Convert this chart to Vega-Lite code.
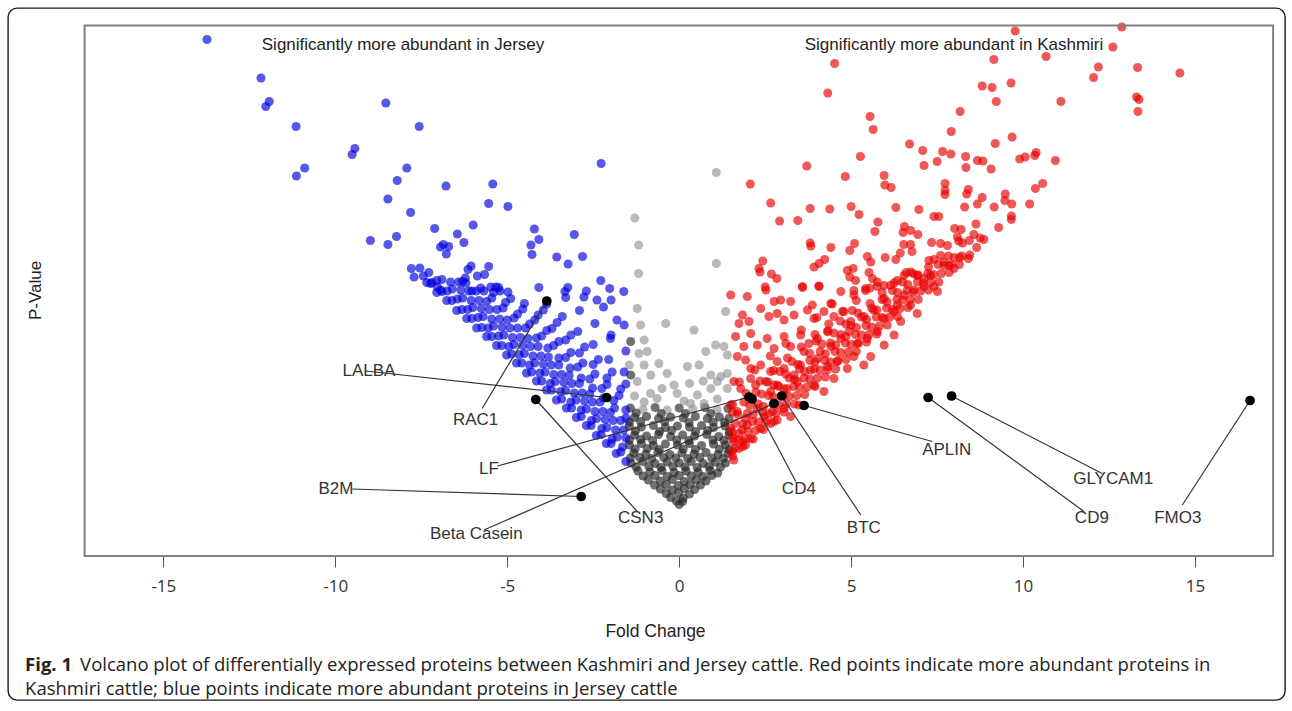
{
"$schema": "https://vega.github.io/schema/vega-lite/v6.json",
"width": 1277, "height": 692, "autosize": "none",
"padding": {"left": 8, "top": 8, "right": 7, "bottom": 11},
"background": "white",
"config": {"view": {"stroke": "#1a1a1a", "strokeWidth": 1.4, "cornerRadius": 9}},
"resolve": {"axis": {"x": "independent", "y": "independent"}},
"datasets": {
"pts": [
{"x":-1.41,"y":4.29,"g":"N"},{"x":-1.41,"y":3.62,"g":"N"},
{"x":-1.42,"y":2.96,"g":"N"},{"x":-1.05,"y":2.93,"g":"S"},{"x":-0.7,"y":2.97,"g":"N"},{"x":-0.35,"y":2.92,"g":"S"},{"x":0.0,"y":2.96,"g":"N"},{"x":0.4,"y":2.94,"g":"S"},{"x":0.75,"y":2.97,"g":"N"},{"x":1.1,"y":2.92,"g":"S"},{"x":1.42,"y":2.95,"g":"N"},
{"x":-1.3,"y":2.77,"g":"N"},{"x":-0.95,"y":2.79,"g":"N"},{"x":-0.6,"y":2.75,"g":"N"},{"x":-0.25,"y":2.78,"g":"N"},{"x":0.12,"y":2.76,"g":"N"},{"x":0.47,"y":2.79,"g":"N"},{"x":0.82,"y":2.75,"g":"N"},{"x":1.17,"y":2.78,"g":"N"},{"x":1.45,"y":2.76,"g":"N"},
{"x":-1.45,"y":2.6,"g":"N"},{"x":-1.1,"y":2.58,"g":"N"},{"x":-0.75,"y":2.61,"g":"N"},{"x":-0.4,"y":2.57,"g":"N"},{"x":-0.05,"y":2.6,"g":"N"},{"x":0.3,"y":2.58,"g":"N"},{"x":0.65,"y":2.61,"g":"N"},{"x":1.0,"y":2.57,"g":"N"},{"x":1.33,"y":2.6,"g":"N"},
{"x":-1.3,"y":2.42,"g":"N"},{"x":-0.95,"y":2.4,"g":"N"},{"x":-0.6,"y":2.43,"g":"N"},{"x":-0.25,"y":2.39,"g":"N"},{"x":0.1,"y":2.42,"g":"N"},{"x":0.45,"y":2.4,"g":"N"},{"x":0.8,"y":2.43,"g":"N"},{"x":1.15,"y":2.39,"g":"N"},{"x":1.45,"y":2.42,"g":"N"},
{"x":-1.45,"y":2.22,"g":"N"},{"x":-1.1,"y":2.25,"g":"N"},{"x":-0.75,"y":2.21,"g":"N"},{"x":-0.4,"y":2.24,"g":"N"},{"x":-0.05,"y":2.22,"g":"N"},{"x":0.3,"y":2.25,"g":"N"},{"x":0.65,"y":2.21,"g":"N"},{"x":1.0,"y":2.24,"g":"N"},{"x":1.35,"y":2.22,"g":"N"},
{"x":-1.32,"y":2.06,"g":"N"},{"x":-0.97,"y":2.04,"g":"N"},{"x":-0.62,"y":2.07,"g":"N"},{"x":-0.27,"y":2.03,"g":"N"},{"x":0.08,"y":2.06,"g":"N"},{"x":0.43,"y":2.04,"g":"N"},{"x":0.78,"y":2.07,"g":"N"},{"x":1.13,"y":2.03,"g":"N"},{"x":1.42,"y":2.05,"g":"N"},
{"x":-1.4,"y":1.86,"g":"N"},{"x":-1.05,"y":1.89,"g":"N"},{"x":-0.7,"y":1.85,"g":"N"},{"x":-0.35,"y":1.88,"g":"N"},{"x":0.0,"y":1.86,"g":"N"},{"x":0.35,"y":1.89,"g":"N"},{"x":0.7,"y":1.85,"g":"N"},{"x":1.05,"y":1.88,"g":"N"},{"x":1.35,"y":1.86,"g":"N"},
{"x":-1.2,"y":1.7,"g":"N"},{"x":-0.85,"y":1.68,"g":"N"},{"x":-0.5,"y":1.71,"g":"N"},{"x":-0.15,"y":1.67,"g":"N"},{"x":0.2,"y":1.7,"g":"N"},{"x":0.55,"y":1.68,"g":"N"},{"x":0.9,"y":1.71,"g":"N"},{"x":1.12,"y":1.66,"g":"N"},
{"x":-0.9,"y":1.52,"g":"N"},{"x":-0.55,"y":1.5,"g":"N"},{"x":-0.2,"y":1.53,"g":"N"},{"x":0.15,"y":1.49,"g":"N"},{"x":0.5,"y":1.52,"g":"N"},{"x":0.78,"y":1.5,"g":"N"},
{"x":-0.55,"y":1.34,"g":"N"},{"x":-0.2,"y":1.32,"g":"N"},{"x":0.15,"y":1.35,"g":"N"},{"x":0.45,"y":1.33,"g":"N"},
{"x":-0.25,"y":1.17,"g":"N"},{"x":0.12,"y":1.16,"g":"N"},{"x":0.0,"y":1.03,"g":"N"},
{"x":-1.25,"y":2.86,"g":"N"},{"x":-0.52,"y":2.85,"g":"N"},{"x":0.18,"y":2.85,"g":"N"},{"x":0.92,"y":2.85,"g":"N"},
{"x":-1.45,"y":2.68,"g":"N"},{"x":-1.12,"y":2.69,"g":"N"},{"x":-0.42,"y":2.69,"g":"N"},{"x":0.29,"y":2.67,"g":"N"},{"x":0.99,"y":2.68,"g":"N"},{"x":1.32,"y":2.67,"g":"N"},
{"x":-1.27,"y":2.5,"g":"N"},{"x":-0.57,"y":2.49,"g":"N"},{"x":-0.22,"y":2.51,"g":"N"},{"x":0.48,"y":2.49,"g":"N"},{"x":0.83,"y":2.51,"g":"N"},{"x":1.46,"y":2.49,"g":"N"},
{"x":-1.45,"y":2.32,"g":"N"},{"x":-1.12,"y":2.33,"g":"N"},{"x":-0.77,"y":2.31,"g":"N"},{"x":-0.07,"y":2.32,"g":"N"},{"x":0.28,"y":2.31,"g":"N"},{"x":0.98,"y":2.32,"g":"N"},{"x":1.3,"y":2.31,"g":"N"},
{"x":-1.28,"y":2.14,"g":"N"},{"x":-0.93,"y":2.15,"g":"N"},{"x":-0.58,"y":2.13,"g":"N"},{"x":0.12,"y":2.14,"g":"N"},{"x":0.47,"y":2.13,"g":"N"},{"x":1.17,"y":2.14,"g":"N"},{"x":1.45,"y":2.13,"g":"N"},
{"x":-1.42,"y":1.96,"g":"N"},{"x":-1.15,"y":1.97,"g":"N"},{"x":-0.8,"y":1.95,"g":"N"},{"x":-0.45,"y":1.97,"g":"N"},{"x":-0.1,"y":1.96,"g":"N"},{"x":0.25,"y":1.95,"g":"N"},{"x":0.6,"y":1.97,"g":"N"},{"x":0.95,"y":1.96,"g":"N"},{"x":1.28,"y":1.95,"g":"N"},
{"x":-1.25,"y":1.78,"g":"N"},{"x":-0.88,"y":1.79,"g":"N"},{"x":-0.53,"y":1.77,"g":"N"},{"x":-0.18,"y":1.79,"g":"N"},{"x":0.17,"y":1.78,"g":"N"},{"x":0.52,"y":1.77,"g":"N"},{"x":0.87,"y":1.79,"g":"N"},{"x":1.2,"y":1.78,"g":"N"},
{"x":-1.05,"y":1.6,"g":"N"},{"x":-0.7,"y":1.61,"g":"N"},{"x":-0.35,"y":1.59,"g":"N"},{"x":0.0,"y":1.61,"g":"N"},{"x":0.35,"y":1.6,"g":"N"},{"x":0.7,"y":1.59,"g":"N"},{"x":0.95,"y":1.61,"g":"N"},
{"x":-0.72,"y":1.42,"g":"N"},{"x":-0.38,"y":1.43,"g":"N"},{"x":-0.03,"y":1.41,"g":"N"},{"x":0.32,"y":1.43,"g":"N"},{"x":0.62,"y":1.42,"g":"N"},
{"x":-0.38,"y":1.25,"g":"N"},{"x":-0.02,"y":1.26,"g":"N"},{"x":0.3,"y":1.24,"g":"N"},{"x":-0.08,"y":1.1,"g":"N"},{"x":0.1,"y":1.09,"g":"N"},
{"x":-1.29,"y":6.76,"g":"S"},{"x":-1.18,"y":6.22,"g":"S"},{"x":-1.18,"y":5.65,"g":"S"},{"x":1.08,"y":7.67,"g":"S"},{"x":1.08,"y":5.85,"g":"S"},
{"x":-1.22,"y":4.95,"g":"S"},{"x":-1.12,"y":4.62,"g":"S"},{"x":-0.39,"y":4.65,"g":"S"},{"x":-1.02,"y":4.32,"g":"S"},{"x":-0.93,"y":4.09,"g":"S"},{"x":-1.17,"y":4.05,"g":"S"},{"x":-1.45,"y":3.82,"g":"S"},{"x":-1.02,"y":3.82,"g":"S"},{"x":-0.59,"y":3.85,"g":"S"},{"x":-0.35,"y":3.65,"g":"S"},{"x":-0.83,"y":3.62,"g":"S"},{"x":-0.15,"y":3.42,"g":"S"},{"x":-1.22,"y":3.49,"g":"S"},{"x":-0.83,"y":3.25,"g":"S"},{"x":-0.64,"y":3.15,"g":"S"},{"x":-0.06,"y":3.25,"g":"S"},{"x":-1.02,"y":3.08,"g":"S"},{"x":0.14,"y":3.1,"g":"S"},
{"x":1.35,"y":4.89,"g":"S"},{"x":0.43,"y":4.52,"g":"S"},{"x":0.77,"y":4.09,"g":"S"},{"x":1.06,"y":4.22,"g":"S"},{"x":1.3,"y":4.19,"g":"S"},{"x":1.4,"y":4.02,"g":"S"},{"x":0.58,"y":3.82,"g":"S"},{"x":0.24,"y":3.79,"g":"S"},{"x":0.92,"y":3.62,"g":"S"},{"x":1.21,"y":3.59,"g":"S"},{"x":1.4,"y":3.65,"g":"S"},{"x":1.11,"y":3.49,"g":"S"},{"x":0.92,"y":3.35,"g":"S"},{"x":1.4,"y":3.35,"g":"S"},{"x":0.53,"y":3.22,"g":"S"},{"x":0.33,"y":3.05,"g":"S"},{"x":0.72,"y":3.05,"g":"S"},{"x":1.11,"y":3.14,"g":"S"},
{"x":-0.5,"y":3.35,"g":"S"},{"x":-1.3,"y":3.2,"g":"S"},{"x":0.3,"y":3.45,"g":"S"},{"x":0.7,"y":3.5,"g":"S"},
{"x":-13.73,"y":10.33,"g":"J"},{"x":-12.16,"y":9.56,"g":"J"},{"x":-11.92,"y":9.09,"g":"J"},{"x":-12.02,"y":8.99,"g":"J"},{"x":-11.14,"y":8.59,"g":"J"},{"x":-9.43,"y":8.15,"g":"J"},{"x":-9.51,"y":8.03,"g":"J"},{"x":-10.89,"y":7.76,"g":"J"},{"x":-11.13,"y":7.6,"g":"J"},{"x":-8.98,"y":6.31,"g":"J"},
{"x":-8.53,"y":9.06,"g":"J"},{"x":-7.56,"y":8.59,"g":"J"},{"x":-7.92,"y":7.76,"g":"J"},{"x":-8.2,"y":7.51,"g":"J"},{"x":-8.47,"y":7.14,"g":"J"},{"x":-7.81,"y":6.87,"g":"J"},{"x":-6.78,"y":7.4,"g":"J"},{"x":-5.42,"y":7.44,"g":"J"},{"x":-5.54,"y":7.05,"g":"J"},{"x":-4.98,"y":6.99,"g":"J"},
{"x":-2.27,"y":7.85,"g":"J"},{"x":-8.22,"y":6.39,"g":"J"},{"x":-8.47,"y":6.23,"g":"J"},{"x":-7.11,"y":6.55,"g":"J"},{"x":-5.99,"y":6.62,"g":"J"},{"x":-6.45,"y":6.44,"g":"J"},{"x":-6.26,"y":6.27,"g":"J"},{"x":-6.94,"y":6.18,"g":"J"},{"x":-6.86,"y":6.23,"g":"J"},{"x":-6.7,"y":6.19,"g":"J"},
{"x":-6.77,"y":6.04,"g":"J"},{"x":-4.21,"y":6.54,"g":"J"},{"x":-4.08,"y":6.33,"g":"J"},{"x":-4.31,"y":6.22,"g":"J"},{"x":-4.28,"y":6.03,"g":"J"},{"x":-3.05,"y":6.43,"g":"J"},{"x":-3.56,"y":5.98,"g":"J"},{"x":-3.23,"y":5.84,"g":"J"},{"x":-2.81,"y":5.99,"g":"J"},{"x":-2.28,"y":5.51,"g":"J"},
{"x":-2.02,"y":5.35,"g":"J"},{"x":-1.61,"y":5.29,"g":"J"},{"x":-7.79,"y":5.75,"g":"J"},{"x":-7.71,"y":5.58,"g":"J"},{"x":-7.54,"y":5.76,"g":"J"},{"x":-7.44,"y":5.6,"g":"J"},{"x":-7.28,"y":5.67,"g":"J"},{"x":-6.05,"y":5.8,"g":"J"},{"x":-6.14,"y":5.73,"g":"J"},{"x":-6.22,"y":5.56,"g":"J"},
{"x":-6.3,"y":5.49,"g":"J"},{"x":-5.87,"y":5.6,"g":"J"},{"x":-5.66,"y":5.63,"g":"J"},{"x":-5.54,"y":5.79,"g":"J"},{"x":-7.23,"y":5.45,"g":"J"},{"x":-7.03,"y":5.38,"g":"J"},{"x":-6.94,"y":5.32,"g":"J"},{"x":-6.03,"y":5.3,"g":"J"},{"x":-5.68,"y":5.3,"g":"J"},{"x":-5.48,"y":5.38,"g":"J"},
{"x":-5.33,"y":5.38,"g":"J"},{"x":-5.21,"y":5.3,"g":"J"},{"x":-4.98,"y":5.28,"g":"J"},{"x":-4.08,"y":5.37,"g":"J"},{"x":-3.24,"y":5.37,"g":"J"},{"x":-3.32,"y":5.29,"g":"J"},
{"x":-1.98,"y":5.12,"g":"J"},{"x":-2.39,"y":5.12,"g":"J"},{"x":-2.77,"y":5.18,"g":"J"},{"x":-1.81,"y":4.72,"g":"J"},{"x":-1.98,"y":4.42,"g":"J"},
{"x":-1.55,"y":1.89,"g":"J"},{"x":-1.83,"y":2.05,"g":"J"},{"x":-2.12,"y":2.25,"g":"J"},{"x":-2.41,"y":2.41,"g":"J"},{"x":-2.7,"y":2.61,"g":"J"},{"x":-2.99,"y":2.77,"g":"J"},{"x":-3.28,"y":2.96,"g":"J"},{"x":-3.57,"y":3.12,"g":"J"},{"x":-3.86,"y":3.32,"g":"J"},{"x":-4.15,"y":3.5,"g":"J"},{"x":-4.44,"y":3.66,"g":"J"},{"x":-4.73,"y":3.86,"g":"J"},{"x":-5.02,"y":4.02,"g":"J"},{"x":-5.31,"y":4.21,"g":"J"},{"x":-5.6,"y":4.39,"g":"J"},{"x":-5.89,"y":4.56,"g":"J"},{"x":-6.18,"y":4.75,"g":"J"},{"x":-6.47,"y":4.91,"g":"J"},{"x":-6.76,"y":5.11,"g":"J"},{"x":-7.05,"y":5.27,"g":"J"},{"x":-7.34,"y":5.47,"g":"J"},
{"x":-1.65,"y":2.18,"g":"J"},{"x":-1.95,"y":2.34,"g":"J"},{"x":-2.25,"y":2.55,"g":"J"},{"x":-2.55,"y":2.71,"g":"J"},{"x":-2.85,"y":2.92,"g":"J"},{"x":-3.15,"y":3.08,"g":"J"},{"x":-3.45,"y":3.29,"g":"J"},{"x":-3.75,"y":3.45,"g":"J"},{"x":-4.05,"y":3.66,"g":"J"},{"x":-4.35,"y":3.82,"g":"J"},{"x":-4.65,"y":4.03,"g":"J"},{"x":-4.95,"y":4.19,"g":"J"},{"x":-5.25,"y":4.4,"g":"J"},{"x":-5.55,"y":4.56,"g":"J"},{"x":-5.85,"y":4.77,"g":"J"},{"x":-6.15,"y":4.93,"g":"J"},{"x":-6.45,"y":5.14,"g":"J"},{"x":-6.75,"y":5.3,"g":"J"},{"x":-7.05,"y":5.51,"g":"J"},
{"x":-1.55,"y":2.36,"g":"J"},{"x":-1.85,"y":2.52,"g":"J"},{"x":-2.15,"y":2.73,"g":"J"},{"x":-2.45,"y":2.89,"g":"J"},{"x":-2.75,"y":3.1,"g":"J"},{"x":-3.05,"y":3.26,"g":"J"},{"x":-3.35,"y":3.47,"g":"J"},{"x":-3.65,"y":3.63,"g":"J"},{"x":-3.95,"y":3.84,"g":"J"},{"x":-4.25,"y":4.0,"g":"J"},{"x":-4.55,"y":4.21,"g":"J"},{"x":-4.85,"y":4.37,"g":"J"},{"x":-5.15,"y":4.58,"g":"J"},{"x":-5.45,"y":4.74,"g":"J"},{"x":-5.75,"y":4.95,"g":"J"},{"x":-6.05,"y":5.11,"g":"J"},{"x":-6.35,"y":5.32,"g":"J"},{"x":-6.65,"y":5.48,"g":"J"},
{"x":-1.7,"y":2.71,"g":"J"},{"x":-2.0,"y":2.87,"g":"J"},{"x":-2.3,"y":3.08,"g":"J"},{"x":-2.6,"y":3.24,"g":"J"},{"x":-2.9,"y":3.45,"g":"J"},{"x":-3.2,"y":3.61,"g":"J"},{"x":-3.5,"y":3.82,"g":"J"},{"x":-3.8,"y":3.98,"g":"J"},{"x":-4.1,"y":4.19,"g":"J"},{"x":-4.4,"y":4.35,"g":"J"},{"x":-4.7,"y":4.56,"g":"J"},{"x":-5.0,"y":4.72,"g":"J"},{"x":-5.3,"y":4.93,"g":"J"},{"x":-5.6,"y":5.09,"g":"J"},{"x":-5.9,"y":5.3,"g":"J"},{"x":-6.2,"y":5.46,"g":"J"},
{"x":-1.55,"y":2.92,"g":"J"},{"x":-1.9,"y":3.11,"g":"J"},{"x":-2.25,"y":3.35,"g":"J"},{"x":-2.6,"y":3.54,"g":"J"},{"x":-2.95,"y":3.78,"g":"J"},{"x":-3.3,"y":3.97,"g":"J"},{"x":-3.65,"y":4.21,"g":"J"},{"x":-4.0,"y":4.4,"g":"J"},{"x":-4.35,"y":4.64,"g":"J"},{"x":-4.7,"y":4.84,"g":"J"},{"x":-5.05,"y":5.07,"g":"J"},{"x":-5.4,"y":5.27,"g":"J"},
{"x":-1.7,"y":3.34,"g":"J"},{"x":-2.1,"y":3.56,"g":"J"},{"x":-2.5,"y":3.83,"g":"J"},{"x":-2.9,"y":4.06,"g":"J"},{"x":-3.3,"y":4.32,"g":"J"},{"x":-3.7,"y":4.55,"g":"J"},{"x":-4.1,"y":4.82,"g":"J"},{"x":-4.5,"y":5.05,"g":"J"},
{"x":-1.6,"y":3.68,"g":"J"},{"x":-2.05,"y":3.93,"g":"J"},{"x":-2.5,"y":4.23,"g":"J"},{"x":-2.95,"y":4.49,"g":"J"},{"x":-3.4,"y":4.79,"g":"J"},{"x":-3.85,"y":5.04,"g":"J"},
{"x":-1.55,"y":4.1,"g":"J"},{"x":-2.0,"y":4.35,"g":"J"},{"x":-2.45,"y":4.65,"g":"J"},{"x":-2.9,"y":4.91,"g":"J"},{"x":-3.3,"y":5.17,"g":"J"},
{"x":-1.6,"y":4.62,"g":"J"},{"x":-2.2,"y":4.98,"g":"J"},{"x":-2.7,"y":5.3,"g":"J"},
{"x":-1.7,"y":2.08,"g":"J"},{"x":-1.98,"y":2.25,"g":"J"},{"x":-2.27,"y":2.43,"g":"J"},{"x":-2.56,"y":2.61,"g":"J"},{"x":-2.85,"y":2.79,"g":"J"},{"x":-3.13,"y":2.96,"g":"J"},{"x":-3.42,"y":3.14,"g":"J"},{"x":-3.71,"y":3.32,"g":"J"},{"x":-4.0,"y":3.5,"g":"J"},{"x":-4.29,"y":3.68,"g":"J"},{"x":-4.58,"y":3.86,"g":"J"},{"x":-4.87,"y":4.04,"g":"J"},{"x":-5.16,"y":4.21,"g":"J"},{"x":-5.45,"y":4.39,"g":"J"},{"x":-5.74,"y":4.57,"g":"J"},{"x":-6.03,"y":4.75,"g":"J"},{"x":-6.32,"y":4.93,"g":"J"},{"x":-6.61,"y":5.11,"g":"J"},{"x":-6.9,"y":5.29,"g":"J"},{"x":-7.19,"y":5.47,"g":"J"},
{"x":-1.8,"y":2.38,"g":"J"},{"x":-2.1,"y":2.57,"g":"J"},{"x":-2.4,"y":2.75,"g":"J"},{"x":-2.7,"y":2.94,"g":"J"},{"x":-3.0,"y":3.12,"g":"J"},{"x":-3.3,"y":3.31,"g":"J"},{"x":-3.6,"y":3.49,"g":"J"},{"x":-3.9,"y":3.68,"g":"J"},{"x":-4.2,"y":3.86,"g":"J"},{"x":-4.5,"y":4.05,"g":"J"},{"x":-4.8,"y":4.23,"g":"J"},{"x":-5.1,"y":4.42,"g":"J"},{"x":-5.4,"y":4.6,"g":"J"},{"x":-5.7,"y":4.79,"g":"J"},{"x":-6.0,"y":4.97,"g":"J"},{"x":-6.3,"y":5.16,"g":"J"},{"x":-6.6,"y":5.34,"g":"J"},{"x":-6.9,"y":5.53,"g":"J"},
{"x":-1.62,"y":2.52,"g":"J"},{"x":-1.92,"y":2.71,"g":"J"},{"x":-2.22,"y":2.89,"g":"J"},{"x":-2.52,"y":3.08,"g":"J"},{"x":-2.82,"y":3.26,"g":"J"},{"x":-3.12,"y":3.45,"g":"J"},{"x":-3.42,"y":3.63,"g":"J"},{"x":-3.72,"y":3.82,"g":"J"},{"x":-4.02,"y":4.0,"g":"J"},{"x":-4.32,"y":4.19,"g":"J"},{"x":-4.62,"y":4.37,"g":"J"},{"x":-4.92,"y":4.56,"g":"J"},{"x":-5.22,"y":4.74,"g":"J"},{"x":-5.52,"y":4.93,"g":"J"},{"x":-5.82,"y":5.11,"g":"J"},{"x":-6.12,"y":5.3,"g":"J"},{"x":-6.42,"y":5.48,"g":"J"},
{"x":-1.55,"y":2.76,"g":"J"},{"x":-1.88,"y":2.96,"g":"J"},{"x":-2.2,"y":3.16,"g":"J"},{"x":-2.52,"y":3.36,"g":"J"},{"x":-2.85,"y":3.56,"g":"J"},{"x":-3.17,"y":3.76,"g":"J"},{"x":-3.5,"y":3.96,"g":"J"},{"x":-3.82,"y":4.16,"g":"J"},{"x":-4.15,"y":4.36,"g":"J"},{"x":-4.47,"y":4.56,"g":"J"},{"x":-4.8,"y":4.76,"g":"J"},{"x":-5.12,"y":4.96,"g":"J"},{"x":-5.45,"y":5.16,"g":"J"},{"x":-5.77,"y":5.36,"g":"J"},
{"x":-1.75,"y":3.21,"g":"J"},{"x":-2.1,"y":3.43,"g":"J"},{"x":-2.45,"y":3.64,"g":"J"},{"x":-2.8,"y":3.86,"g":"J"},{"x":-3.15,"y":4.07,"g":"J"},{"x":-3.5,"y":4.29,"g":"J"},{"x":-3.85,"y":4.51,"g":"J"},{"x":-4.2,"y":4.72,"g":"J"},{"x":-4.55,"y":4.94,"g":"J"},{"x":-4.9,"y":5.15,"g":"J"},{"x":-5.25,"y":5.37,"g":"J"},
{"x":-1.55,"y":3.44,"g":"J"},{"x":-1.95,"y":3.68,"g":"J"},{"x":-2.35,"y":3.93,"g":"J"},{"x":-2.75,"y":4.18,"g":"J"},{"x":-3.15,"y":4.42,"g":"J"},{"x":-3.55,"y":4.67,"g":"J"},{"x":-3.95,"y":4.92,"g":"J"},
{"x":4.52,"y":9.85,"g":"K"},{"x":4.32,"y":9.26,"g":"K"},{"x":5.55,"y":8.79,"g":"K"},{"x":5.64,"y":8.53,"g":"K"},{"x":8.17,"y":8.89,"g":"K"},{"x":8.81,"y":9.4,"g":"K"},{"x":7.91,"y":8.49,"g":"K"},{"x":6.7,"y":8.24,"g":"K"},{"x":7.08,"y":8.11,"g":"K"},{"x":7.66,"y":8.09,"g":"K"},
{"x":7.9,"y":8.04,"g":"K"},{"x":8.33,"y":7.99,"g":"K"},{"x":8.67,"y":7.91,"g":"K"},{"x":8.83,"y":7.9,"g":"K"},{"x":7.12,"y":7.81,"g":"K"},{"x":7.5,"y":7.89,"g":"K"},{"x":8.34,"y":7.77,"g":"K"},{"x":5.27,"y":7.99,"g":"K"},{"x":3.71,"y":7.8,"g":"K"},{"x":2.07,"y":7.44,"g":"K"},
{"x":4.83,"y":7.59,"g":"K"},{"x":5.96,"y":7.61,"g":"K"},{"x":5.98,"y":7.42,"g":"K"},{"x":6.16,"y":7.37,"g":"K"},{"x":7.73,"y":7.45,"g":"K"},{"x":7.73,"y":7.31,"g":"K"},{"x":7.73,"y":7.23,"g":"K"},{"x":8.41,"y":7.33,"g":"K"},{"x":8.36,"y":7.24,"g":"K"},{"x":8.81,"y":7.17,"g":"K"},
{"x":2.66,"y":7.06,"g":"K"},{"x":3.81,"y":6.95,"g":"K"},{"x":4.38,"y":6.94,"g":"K"},{"x":5.0,"y":6.99,"g":"K"},{"x":5.23,"y":6.83,"g":"K"},{"x":6.3,"y":6.97,"g":"K"},{"x":6.97,"y":6.93,"g":"K"},{"x":8.3,"y":6.98,"g":"K"},{"x":8.67,"y":7.04,"g":"K"},{"x":2.92,"y":6.7,"g":"K"},
{"x":3.45,"y":6.71,"g":"K"},{"x":5.78,"y":6.68,"g":"K"},{"x":5.69,"y":6.49,"g":"K"},{"x":7.41,"y":6.79,"g":"K"},{"x":7.55,"y":6.79,"g":"K"},{"x":6.55,"y":6.59,"g":"K"},{"x":6.51,"y":6.47,"g":"K"},{"x":6.73,"y":6.51,"g":"K"},{"x":6.94,"y":6.43,"g":"K"},{"x":8.01,"y":6.55,"g":"K"},
{"x":8.2,"y":6.53,"g":"K"},{"x":8.63,"y":6.64,"g":"K"},{"x":8.09,"y":6.38,"g":"K"},{"x":8.13,"y":6.3,"g":"K"},{"x":8.44,"y":6.31,"g":"K"},{"x":8.57,"y":6.43,"g":"K"},{"x":8.75,"y":6.36,"g":"K"},{"x":3.81,"y":6.26,"g":"K"},{"x":3.83,"y":6.2,"g":"K"},{"x":4.41,"y":6.17,"g":"K"},
{"x":5.1,"y":6.25,"g":"K"},{"x":4.96,"y":6.11,"g":"K"},{"x":6.53,"y":6.23,"g":"K"},{"x":6.73,"y":6.23,"g":"K"},{"x":7.34,"y":6.27,"g":"K"},{"x":7.6,"y":6.25,"g":"K"},{"x":7.8,"y":6.21,"g":"K"},{"x":8.24,"y":6.26,"g":"K"},{"x":8.65,"y":6.17,"g":"K"},{"x":6.77,"y":6.09,"g":"K"},
{"x":6.43,"y":6.06,"g":"K"},{"x":6.3,"y":5.93,"g":"K"},{"x":2.43,"y":5.9,"g":"K"},{"x":2.32,"y":5.75,"g":"K"},{"x":2.35,"y":5.68,"g":"K"},{"x":2.68,"y":5.64,"g":"K"},{"x":2.84,"y":5.55,"g":"K"},{"x":2.5,"y":5.38,"g":"K"},{"x":3.92,"y":5.78,"g":"K"},{"x":4.07,"y":5.85,"g":"K"},
{"x":4.23,"y":5.93,"g":"K"},{"x":5.47,"y":5.99,"g":"K"},{"x":5.57,"y":5.88,"g":"K"},{"x":5.99,"y":5.97,"g":"K"},{"x":7.26,"y":5.91,"g":"K"},{"x":7.41,"y":5.93,"g":"K"},{"x":7.6,"y":6.01,"g":"K"},{"x":7.7,"y":5.88,"g":"K"},{"x":7.85,"y":5.81,"g":"K"},{"x":7.99,"y":5.75,"g":"K"},
{"x":8.15,"y":5.97,"g":"K"},{"x":8.41,"y":5.95,"g":"K"},{"x":4.89,"y":5.71,"g":"K"},{"x":4.96,"y":5.58,"g":"K"},{"x":5.13,"y":5.51,"g":"K"},{"x":5.06,"y":5.75,"g":"K"},{"x":5.52,"y":5.67,"g":"K"},{"x":5.62,"y":5.55,"g":"K"},{"x":5.76,"y":5.48,"g":"K"},{"x":5.96,"y":5.41,"g":"K"},
{"x":6.15,"y":5.41,"g":"K"},{"x":6.34,"y":5.51,"g":"K"},{"x":6.54,"y":5.61,"g":"K"},{"x":6.73,"y":5.68,"g":"K"},{"x":6.92,"y":5.61,"g":"K"},{"x":7.12,"y":5.55,"g":"K"},{"x":7.31,"y":5.61,"g":"K"},{"x":3.59,"y":5.37,"g":"K"},{"x":4.06,"y":5.4,"g":"K"},{"x":5.08,"y":5.31,"g":"K"},{"x":5.42,"y":5.31,"g":"K"},
{"x":9.77,"y":10.5,"g":"K"},{"x":12.87,"y":10.58,"g":"K"},{"x":12.61,"y":10.18,"g":"K"},{"x":9.15,"y":9.93,"g":"K"},{"x":10.67,"y":9.99,"g":"K"},{"x":12.19,"y":9.78,"g":"K"},{"x":12.05,"y":9.57,"g":"K"},{"x":13.33,"y":9.77,"g":"K"},{"x":14.56,"y":9.66,"g":"K"},{"x":9.1,"y":9.37,"g":"K"},
{"x":9.65,"y":9.46,"g":"K"},{"x":9.22,"y":9.09,"g":"K"},{"x":11.1,"y":9.09,"g":"K"},{"x":13.3,"y":9.18,"g":"K"},{"x":13.37,"y":9.13,"g":"K"},{"x":13.34,"y":8.89,"g":"K"},{"x":9.68,"y":8.38,"g":"K"},{"x":9.19,"y":8.25,"g":"K"},{"x":9.07,"y":7.74,"g":"K"},{"x":9.9,"y":7.94,"g":"K"},
{"x":10.06,"y":7.98,"g":"K"},{"x":10.38,"y":8.07,"g":"K"},{"x":10.34,"y":8.01,"g":"K"},{"x":10.94,"y":7.91,"g":"K"},{"x":10.57,"y":7.45,"g":"K"},{"x":10.36,"y":7.35,"g":"K"},{"x":9.48,"y":7.24,"g":"K"},{"x":9.47,"y":7.11,"g":"K"},{"x":9.67,"y":7.04,"g":"K"},{"x":9.16,"y":6.98,"g":"K"},
{"x":10.19,"y":7.04,"g":"K"},{"x":9.66,"y":6.8,"g":"K"},{"x":9.66,"y":6.73,"g":"K"},{"x":9.29,"y":6.57,"g":"K"},{"x":8.86,"y":6.33,"g":"K"},
{"x":1.5,"y":5.22,"g":"K"},{"x":1.98,"y":5.19,"g":"K"},{"x":2.52,"y":5.32,"g":"K"},{"x":2.76,"y":5.09,"g":"K"},{"x":2.95,"y":5.12,"g":"K"},{"x":3.24,"y":5.09,"g":"K"},{"x":3.58,"y":5.39,"g":"K"},{"x":3.87,"y":5.02,"g":"K"},{"x":4.07,"y":5.39,"g":"K"},{"x":4.41,"y":5.05,"g":"K"},
{"x":4.7,"y":5.29,"g":"K"},{"x":5.08,"y":5.22,"g":"K"},{"x":5.42,"y":5.35,"g":"K"},{"x":5.76,"y":5.39,"g":"K"},{"x":5.96,"y":5.15,"g":"K"},{"x":6.34,"y":5.02,"g":"K"},{"x":6.54,"y":5.22,"g":"K"},{"x":6.83,"y":5.32,"g":"K"},{"x":7.12,"y":5.39,"g":"K"},{"x":7.41,"y":5.39,"g":"K"},{"x":7.51,"y":5.29,"g":"K"},
{"x":1.84,"y":4.82,"g":"K"},{"x":1.74,"y":4.65,"g":"K"},{"x":2.03,"y":4.69,"g":"K"},{"x":2.37,"y":4.95,"g":"K"},{"x":2.61,"y":4.79,"g":"K"},{"x":2.85,"y":4.85,"g":"K"},{"x":3.05,"y":4.72,"g":"K"},{"x":3.34,"y":4.82,"g":"K"},{"x":3.73,"y":4.92,"g":"K"},{"x":3.92,"y":4.75,"g":"K"},
{"x":4.21,"y":4.89,"g":"K"},{"x":4.5,"y":4.79,"g":"K"},{"x":4.79,"y":4.89,"g":"K"},{"x":4.99,"y":4.69,"g":"K"},{"x":5.37,"y":4.79,"g":"K"},{"x":5.66,"y":4.92,"g":"K"},{"x":5.96,"y":4.75,"g":"K"},{"x":6.25,"y":4.89,"g":"K"},{"x":6.44,"y":4.69,"g":"K"},{"x":6.73,"y":5.02,"g":"K"},{"x":6.92,"y":4.85,"g":"K"},
{"x":1.64,"y":4.39,"g":"K"},{"x":2.08,"y":4.45,"g":"K"},{"x":1.88,"y":4.19,"g":"K"},{"x":2.27,"y":4.22,"g":"K"},{"x":2.56,"y":4.35,"g":"K"},{"x":2.76,"y":4.15,"g":"K"},{"x":3.05,"y":4.39,"g":"K"},{"x":3.24,"y":4.19,"g":"K"},{"x":3.53,"y":4.42,"g":"K"},{"x":3.77,"y":4.25,"g":"K"},
{"x":4.02,"y":4.35,"g":"K"},{"x":4.31,"y":4.49,"g":"K"},{"x":4.41,"y":4.19,"g":"K"},{"x":4.7,"y":4.35,"g":"K"},{"x":4.94,"y":4.49,"g":"K"},{"x":5.18,"y":4.25,"g":"K"},{"x":5.47,"y":4.35,"g":"K"},{"x":5.76,"y":4.49,"g":"K"},{"x":5.96,"y":4.22,"g":"K"},{"x":6.25,"y":4.42,"g":"K"},
{"x":1.69,"y":3.99,"g":"K"},{"x":1.93,"y":3.92,"g":"K"},{"x":2.08,"y":3.75,"g":"K"},{"x":2.37,"y":3.82,"g":"K"},{"x":2.66,"y":3.69,"g":"K"},{"x":2.85,"y":3.89,"g":"K"},{"x":3.05,"y":3.75,"g":"K"},{"x":3.34,"y":3.62,"g":"K"},{"x":3.53,"y":3.82,"g":"K"},{"x":3.82,"y":3.72,"g":"K"},
{"x":4.02,"y":3.95,"g":"K"},{"x":4.31,"y":3.79,"g":"K"},{"x":4.6,"y":3.89,"g":"K"},{"x":4.89,"y":3.75,"g":"K"},{"x":5.08,"y":3.99,"g":"K"},{"x":5.37,"y":3.82,"g":"K"},{"x":5.57,"y":3.99,"g":"K"},
{"x":1.59,"y":3.49,"g":"K"},{"x":1.79,"y":3.35,"g":"K"},{"x":2.08,"y":3.55,"g":"K"},{"x":2.22,"y":3.42,"g":"K"},{"x":2.52,"y":3.49,"g":"K"},{"x":2.66,"y":3.29,"g":"K"},{"x":2.85,"y":3.42,"g":"K"},{"x":3.14,"y":3.35,"g":"K"},{"x":3.43,"y":3.49,"g":"K"},{"x":3.92,"y":3.42,"g":"K"},{"x":4.21,"y":3.29,"g":"K"},{"x":4.5,"y":3.55,"g":"K"},
{"x":1.5,"y":3.02,"g":"K"},{"x":1.69,"y":2.89,"g":"K"},{"x":1.93,"y":2.75,"g":"K"},{"x":2.27,"y":2.95,"g":"K"},{"x":2.47,"y":2.79,"g":"K"},{"x":2.71,"y":2.89,"g":"K"},{"x":3.05,"y":2.95,"g":"K"},{"x":3.24,"y":2.79,"g":"K"},{"x":3.48,"y":3.02,"g":"K"},{"x":2.85,"y":2.72,"g":"K"},
{"x":1.5,"y":2.55,"g":"K"},{"x":1.74,"y":2.45,"g":"K"},{"x":1.98,"y":2.62,"g":"K"},{"x":2.08,"y":2.35,"g":"K"},{"x":2.37,"y":2.55,"g":"K"},{"x":2.66,"y":2.65,"g":"K"},{"x":1.84,"y":2.29,"g":"K"},{"x":1.59,"y":2.29,"g":"K"},{"x":1.54,"y":2.09,"g":"K"},{"x":1.74,"y":2.15,"g":"K"},{"x":1.93,"y":2.22,"g":"K"},{"x":1.59,"y":1.92,"g":"K"},
{"x":1.55,"y":2.0,"g":"K"},{"x":1.85,"y":2.19,"g":"K"},{"x":2.15,"y":2.34,"g":"K"},{"x":2.45,"y":2.53,"g":"K"},{"x":2.75,"y":2.69,"g":"K"},{"x":3.05,"y":2.88,"g":"K"},{"x":3.35,"y":3.04,"g":"K"},{"x":3.65,"y":3.23,"g":"K"},{"x":3.95,"y":3.39,"g":"K"},{"x":4.25,"y":3.58,"g":"K"},{"x":4.55,"y":3.74,"g":"K"},{"x":4.85,"y":3.93,"g":"K"},{"x":5.15,"y":4.09,"g":"K"},{"x":5.45,"y":4.28,"g":"K"},{"x":5.75,"y":4.44,"g":"K"},{"x":6.05,"y":4.62,"g":"K"},{"x":6.35,"y":4.79,"g":"K"},{"x":6.65,"y":4.97,"g":"K"},{"x":6.95,"y":5.13,"g":"K"},{"x":7.25,"y":5.32,"g":"K"},{"x":7.55,"y":5.48,"g":"K"},{"x":7.85,"y":5.67,"g":"K"},{"x":8.15,"y":5.83,"g":"K"},{"x":8.45,"y":6.02,"g":"K"},
{"x":1.7,"y":2.33,"g":"K"},{"x":2.0,"y":2.49,"g":"K"},{"x":2.3,"y":2.68,"g":"K"},{"x":2.6,"y":2.84,"g":"K"},{"x":2.9,"y":3.02,"g":"K"},{"x":3.2,"y":3.19,"g":"K"},{"x":3.5,"y":3.37,"g":"K"},{"x":3.8,"y":3.54,"g":"K"},{"x":4.1,"y":3.72,"g":"K"},{"x":4.4,"y":3.88,"g":"K"},{"x":4.7,"y":4.07,"g":"K"},{"x":5.0,"y":4.23,"g":"K"},{"x":5.3,"y":4.42,"g":"K"},{"x":5.6,"y":4.58,"g":"K"},{"x":5.9,"y":4.77,"g":"K"},{"x":6.2,"y":4.93,"g":"K"},{"x":6.5,"y":5.12,"g":"K"},{"x":6.8,"y":5.28,"g":"K"},{"x":7.1,"y":5.46,"g":"K"},{"x":7.4,"y":5.63,"g":"K"},{"x":7.7,"y":5.81,"g":"K"},{"x":8.0,"y":5.97,"g":"K"},
{"x":1.55,"y":2.48,"g":"K"},{"x":1.85,"y":2.64,"g":"K"},{"x":2.15,"y":2.83,"g":"K"},{"x":2.45,"y":2.99,"g":"K"},{"x":2.75,"y":3.18,"g":"K"},{"x":3.05,"y":3.34,"g":"K"},{"x":3.35,"y":3.53,"g":"K"},{"x":3.65,"y":3.69,"g":"K"},{"x":3.95,"y":3.88,"g":"K"},{"x":4.25,"y":4.04,"g":"K"},{"x":4.55,"y":4.22,"g":"K"},{"x":4.85,"y":4.39,"g":"K"},{"x":5.15,"y":4.57,"g":"K"},{"x":5.45,"y":4.73,"g":"K"},{"x":5.75,"y":4.92,"g":"K"},{"x":6.05,"y":5.08,"g":"K"},{"x":6.35,"y":5.27,"g":"K"},{"x":6.65,"y":5.43,"g":"K"},{"x":6.95,"y":5.62,"g":"K"},{"x":7.25,"y":5.78,"g":"K"},
{"x":1.7,"y":2.83,"g":"K"},{"x":2.05,"y":3.01,"g":"K"},{"x":2.4,"y":3.24,"g":"K"},{"x":2.75,"y":3.42,"g":"K"},{"x":3.1,"y":3.64,"g":"K"},{"x":3.45,"y":3.83,"g":"K"},{"x":3.8,"y":4.05,"g":"K"},{"x":4.15,"y":4.24,"g":"K"},{"x":4.5,"y":4.46,"g":"K"},{"x":4.85,"y":4.64,"g":"K"},{"x":5.2,"y":4.86,"g":"K"},{"x":5.55,"y":5.05,"g":"K"},{"x":5.9,"y":5.27,"g":"K"},{"x":6.25,"y":5.46,"g":"K"},{"x":6.6,"y":5.67,"g":"K"},
{"x":1.55,"y":3.03,"g":"K"},{"x":1.95,"y":3.25,"g":"K"},{"x":2.35,"y":3.5,"g":"K"},{"x":2.75,"y":3.71,"g":"K"},{"x":3.15,"y":3.96,"g":"K"},{"x":3.55,"y":4.18,"g":"K"},{"x":3.95,"y":4.43,"g":"K"},{"x":4.35,"y":4.64,"g":"K"},{"x":4.75,"y":4.89,"g":"K"},{"x":5.15,"y":5.11,"g":"K"},{"x":5.55,"y":5.36,"g":"K"},
{"x":1.75,"y":3.48,"g":"K"},{"x":2.2,"y":3.72,"g":"K"},{"x":2.65,"y":4.0,"g":"K"},{"x":3.1,"y":4.25,"g":"K"},{"x":3.55,"y":4.52,"g":"K"},{"x":4.0,"y":4.77,"g":"K"},{"x":4.45,"y":5.04,"g":"K"},
{"x":1.62,"y":2.16,"g":"K"},{"x":1.92,"y":2.34,"g":"K"},{"x":2.22,"y":2.51,"g":"K"},{"x":2.52,"y":2.69,"g":"K"},{"x":2.82,"y":2.86,"g":"K"},{"x":3.12,"y":3.04,"g":"K"},{"x":3.42,"y":3.21,"g":"K"},{"x":3.72,"y":3.38,"g":"K"},{"x":4.02,"y":3.56,"g":"K"},{"x":4.32,"y":3.73,"g":"K"},{"x":4.62,"y":3.91,"g":"K"},{"x":4.92,"y":4.08,"g":"K"},{"x":5.22,"y":4.26,"g":"K"},{"x":5.52,"y":4.43,"g":"K"},{"x":5.82,"y":4.6,"g":"K"},{"x":6.12,"y":4.78,"g":"K"},{"x":6.42,"y":4.95,"g":"K"},{"x":6.72,"y":5.13,"g":"K"},{"x":7.02,"y":5.3,"g":"K"},{"x":7.32,"y":5.48,"g":"K"},{"x":7.62,"y":5.65,"g":"K"},{"x":7.92,"y":5.83,"g":"K"},{"x":8.22,"y":6.0,"g":"K"},
{"x":1.55,"y":2.35,"g":"K"},{"x":1.83,"y":2.52,"g":"K"},{"x":2.13,"y":2.69,"g":"K"},{"x":2.43,"y":2.87,"g":"K"},{"x":2.73,"y":3.04,"g":"K"},{"x":3.03,"y":3.21,"g":"K"},{"x":3.33,"y":3.39,"g":"K"},{"x":3.63,"y":3.56,"g":"K"},{"x":3.93,"y":3.74,"g":"K"},{"x":4.23,"y":3.91,"g":"K"},{"x":4.53,"y":4.09,"g":"K"},{"x":4.83,"y":4.26,"g":"K"},{"x":5.13,"y":4.43,"g":"K"},{"x":5.43,"y":4.61,"g":"K"},{"x":5.73,"y":4.78,"g":"K"},{"x":6.03,"y":4.96,"g":"K"},{"x":6.33,"y":5.13,"g":"K"},{"x":6.63,"y":5.31,"g":"K"},{"x":6.93,"y":5.48,"g":"K"},{"x":7.23,"y":5.65,"g":"K"},{"x":7.53,"y":5.83,"g":"K"},{"x":7.83,"y":6.0,"g":"K"},
{"x":1.63,"y":2.65,"g":"K"},{"x":1.98,"y":2.85,"g":"K"},{"x":2.3,"y":3.04,"g":"K"},{"x":2.6,"y":3.21,"g":"K"},{"x":2.9,"y":3.39,"g":"K"},{"x":3.2,"y":3.56,"g":"K"},{"x":3.5,"y":3.74,"g":"K"},{"x":3.8,"y":3.91,"g":"K"},{"x":4.1,"y":4.09,"g":"K"},{"x":4.4,"y":4.26,"g":"K"},{"x":4.7,"y":4.43,"g":"K"},{"x":5.0,"y":4.61,"g":"K"},{"x":5.3,"y":4.78,"g":"K"},{"x":5.6,"y":4.96,"g":"K"},{"x":5.9,"y":5.13,"g":"K"},{"x":6.2,"y":5.31,"g":"K"},{"x":6.5,"y":5.48,"g":"K"},{"x":6.8,"y":5.65,"g":"K"},
{"x":1.55,"y":2.88,"g":"K"},{"x":1.88,"y":3.08,"g":"K"},{"x":2.23,"y":3.28,"g":"K"},{"x":2.58,"y":3.48,"g":"K"},{"x":2.93,"y":3.69,"g":"K"},{"x":3.28,"y":3.89,"g":"K"},{"x":3.63,"y":4.09,"g":"K"},{"x":3.98,"y":4.3,"g":"K"},{"x":4.33,"y":4.5,"g":"K"},{"x":4.68,"y":4.7,"g":"K"},{"x":5.03,"y":4.91,"g":"K"}
],
"lab": [
{"name":"RAC1","px":-3.85,"py":5.10,"sx":-5.73,"sy":2.95,"tx":-5.92,"ty":2.73},
{"name":"LALBA","px":-2.11,"py":3.17,"sx":-9.11,"sy":3.70,"tx":-9.02,"ty":3.70},
{"name":"CSN3","px":-4.17,"py":3.13,"sx":-1.22,"sy":0.89,"tx":-1.12,"ty":0.77},
{"name":"B2M","px":-2.85,"py":1.19,"sx":-9.51,"sy":1.34,"tx":-9.98,"ty":1.34},
{"name":"LF","px":2.03,"py":3.18,"sx":-5.29,"sy":1.80,"tx":-5.53,"ty":1.74},
{"name":"Beta Casein","px":2.76,"py":3.05,"sx":-5.68,"sy":0.52,"tx":-5.90,"ty":0.45},
{"name":"CD4","px":2.12,"py":3.14,"sx":3.39,"sy":1.49,"tx":3.48,"ty":1.35},
{"name":"BTC","px":2.98,"py":3.20,"sx":5.28,"sy":0.82,"tx":5.37,"ty":0.57},
{"name":"APLIN","px":3.63,"py":3.01,"sx":7.36,"sy":2.29,"tx":7.78,"ty":2.13},
{"name":"CD9","px":7.24,"py":3.17,"sx":11.77,"sy":0.89,"tx":12.0,"ty":0.77},
{"name":"GLYCAM1","px":7.92,"py":3.20,"sx":12.30,"sy":1.65,"tx":12.62,"ty":1.54},
{"name":"FMO3","px":16.60,"py":3.11,"sx":14.63,"sy":1.02,"tx":14.50,"ty":0.77}
]
},
"layer": [
{
"data": {"name": "pts"},
"mark": {"type": "circle", "size": 82, "opacity": 0.66},
"encoding": {
"x": {"field": "x", "type": "quantitative", "scale": {"domain": [-19.517, 17.616], "nice": false, "zero": false},
"axis": {"values": [-15, -10, -5, 0, 5, 10, 15], "offset": -144, "domain": false, "grid": false, "ticks": true, "tickSize": 11, "tickColor": "#555555", "tickWidth": 1, "labels": true, "labelFont": "Open Sans", "labelFontSize": 17, "labelColor": "#333333", "labelPadding": 11, "labelExpr": "'' + datum.value", "title": "Fold Change", "titleFont": "Liberation Sans", "titleFontSize": 17.5, "titleFontWeight": "normal", "titleColor": "#222222", "titleX": 647, "titleY": 75, "titleAlign": "center", "titleBaseline": "middle"}},
"y": {"field": "y", "type": "quantitative", "scale": {"domain": [-2.88, 10.96], "nice": false, "zero": false},
"axis": {"domain": false, "ticks": false, "labels": false, "grid": false, "title": "P-Value", "titleFont": "Liberation Sans", "titleFontSize": 17, "titleFontWeight": "normal", "titleColor": "#222222", "titleX": 27, "titleY": 282, "titleAngle": -90, "titleAlign": "center", "titleBaseline": "middle"}},
"color": {"field": "g", "type": "nominal", "scale": {"domain": ["J", "K", "S", "N"], "range": ["#0000dd", "#e80000", "#959595", "#262626"]}, "legend": null}
}
},
{
"data": {"name": "lab"},
"mark": {"type": "rule", "color": "#333333", "strokeWidth": 1.2},
"encoding": {
"x": {"field": "px", "type": "quantitative", "scale": {"domain": [-19.517, 17.616], "nice": false, "zero": false}, "axis": null},
"y": {"field": "py", "type": "quantitative", "scale": {"domain": [-2.88, 10.96], "nice": false, "zero": false}, "axis": null},
"x2": {"field": "sx"}, "y2": {"field": "sy"}
}
},
{
"data": {"name": "lab"},
"mark": {"type": "circle", "size": 95, "opacity": 1, "color": "#000000"},
"encoding": {
"x": {"field": "px", "type": "quantitative", "scale": {"domain": [-19.517, 17.616], "nice": false, "zero": false}, "axis": null},
"y": {"field": "py", "type": "quantitative", "scale": {"domain": [-2.88, 10.96], "nice": false, "zero": false}, "axis": null}
}
},
{
"data": {"name": "lab"},
"mark": {"type": "text", "font": "Liberation Sans", "fontSize": 17, "color": "#333333", "align": "center", "baseline": "middle"},
"encoding": {
"x": {"field": "tx", "type": "quantitative", "scale": {"domain": [-19.517, 17.616], "nice": false, "zero": false}, "axis": null},
"y": {"field": "ty", "type": "quantitative", "scale": {"domain": [-2.88, 10.96], "nice": false, "zero": false}, "axis": null},
"text": {"field": "name"}
}
},
{
"data": {"values": [{}]},
"mark": {"type": "rect", "fill": null, "filled": false, "stroke": "#808080", "strokeWidth": 2},
"encoding": {
"x": {"datum": -17.29, "type": "quantitative", "scale": {"domain": [-19.517, 17.616], "nice": false, "zero": false}, "axis": null},
"x2": {"datum": 17.27},
"y": {"datum": 0, "type": "quantitative", "scale": {"domain": [-2.88, 10.96], "nice": false, "zero": false}, "axis": null},
"y2": {"datum": 10.61}
}
},
{
"data": {"values": [{}]},
"mark": {"type": "text", "font": "Liberation Sans", "fontSize": 17, "color": "#222222", "align": "center", "baseline": "middle"},
"encoding": {
"x": {"datum": -8.03, "type": "quantitative", "scale": {"domain": [-19.517, 17.616], "nice": false, "zero": false}, "axis": null},
"y": {"datum": 10.22, "type": "quantitative", "scale": {"domain": [-2.88, 10.96], "nice": false, "zero": false}, "axis": null},
"text": {"value": "Significantly more abundant in Jersey"}
}
},
{
"data": {"values": [{}]},
"mark": {"type": "text", "font": "Liberation Sans", "fontSize": 17, "color": "#222222", "align": "center", "baseline": "middle"},
"encoding": {
"x": {"datum": 7.99, "type": "quantitative", "scale": {"domain": [-19.517, 17.616], "nice": false, "zero": false}, "axis": null},
"y": {"datum": 10.22, "type": "quantitative", "scale": {"domain": [-2.88, 10.96], "nice": false, "zero": false}, "axis": null},
"text": {"value": "Significantly more abundant in Kashmiri"}
}
},
{
"data": {"values": [{}]},
"mark": {"type": "text", "font": "Open Sans", "fontSize": 18.5, "fontWeight": "bold", "color": "#222222", "align": "left", "baseline": "middle"},
"encoding": {
"x": {"datum": -19.02, "type": "quantitative", "scale": {"domain": [-19.517, 17.616], "nice": false, "zero": false}, "axis": null},
"y": {"datum": -2.18, "type": "quantitative", "scale": {"domain": [-2.88, 10.96], "nice": false, "zero": false}, "axis": null},
"text": {"value": "Fig. 1"}
}
},
{
"data": {"values": [{}]},
"mark": {"type": "text", "font": "Open Sans", "fontSize": 18.5, "color": "#222222", "align": "left", "baseline": "middle"},
"encoding": {
"x": {"datum": -17.42, "type": "quantitative", "scale": {"domain": [-19.517, 17.616], "nice": false, "zero": false}, "axis": null},
"y": {"datum": -2.18, "type": "quantitative", "scale": {"domain": [-2.88, 10.96], "nice": false, "zero": false}, "axis": null},
"text": {"value": "Volcano plot of differentially expressed proteins between Kashmiri and Jersey cattle. Red points indicate more abundant proteins in"}
}
},
{
"data": {"values": [{}]},
"mark": {"type": "text", "font": "Open Sans", "fontSize": 18.5, "color": "#222222", "align": "left", "baseline": "middle"},
"encoding": {
"x": {"datum": -19.02, "type": "quantitative", "scale": {"domain": [-19.517, 17.616], "nice": false, "zero": false}, "axis": null},
"y": {"datum": -2.66, "type": "quantitative", "scale": {"domain": [-2.88, 10.96], "nice": false, "zero": false}, "axis": null},
"text": {"value": "Kashmiri cattle; blue points indicate more abundant proteins in Jersey cattle"}
}
}
]
}
